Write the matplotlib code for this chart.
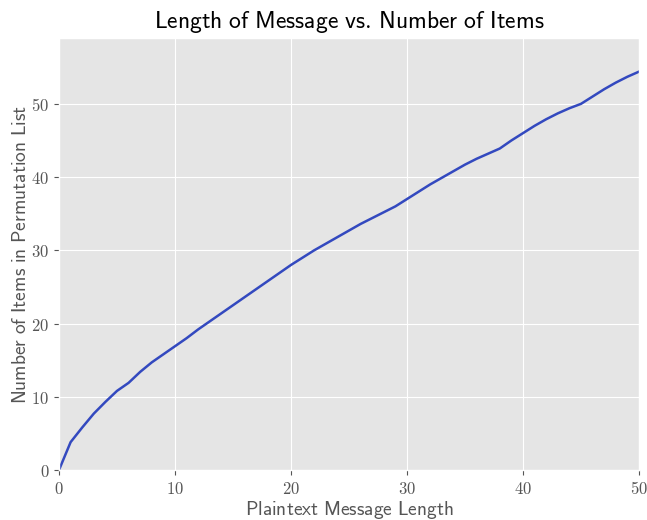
import numpy as np
import matplotlib
matplotlib.use("Agg")
import matplotlib.pyplot as plt
from matplotlib.ticker import FuncFormatter

plt.style.use("ggplot")
plt.rcParams["mathtext.fontset"] = "cm"

# message length (characters) and number of items in the permutation list
msg_length = list(range(0, 51))
num_items = [
    0.0, 3.8, 5.8, 7.7, 9.3, 10.8, 11.9, 13.4, 14.7, 15.8,
    16.9, 18.0, 19.2, 20.3, 21.4, 22.5, 23.6, 24.7, 25.8, 26.9,
    28.0, 29.0, 30.0, 30.9, 31.8, 32.7, 33.6, 34.4, 35.2, 36.0,
    37.0, 38.0, 39.0, 39.9, 40.8, 41.7, 42.5, 43.2, 43.9, 45.0,
    46.0, 47.0, 47.9, 48.7, 49.4, 50.0, 51.0, 52.0, 52.9, 53.7,
    54.4,
]


def sans(text):
    # Computer Modern Sans through mathtext
    return r"$\mathsf{" + text.replace(" ", r"\ ") + "}$"


fig = plt.figure(figsize=(6.47, 5.2), dpi=100)
ax = fig.add_axes([0.0912, 0.0962, 0.8964, 0.8308])

ax.plot(msg_length, num_items, color="#3349bf", linewidth=1.8)

ax.set_xlim(0, 50)
ax.set_ylim(0, 59)
ax.set_xticks([0, 10, 20, 30, 40, 50])
ax.set_yticks([0, 10, 20, 30, 40, 50])
fmt = FuncFormatter(lambda v, pos: r"$%d$" % v)
ax.xaxis.set_major_formatter(fmt)
ax.yaxis.set_major_formatter(fmt)
ax.tick_params(labelsize=12, colors="#555555")

ax.set_title(sans("Length of Message vs.Number of Items").replace("vs.", r"vs.\,"),
             fontsize=17, color="black", pad=7)
ax.set_xlabel(sans("Plaintext Message Length"), fontsize=14, color="#555555", labelpad=1)
ax.set_ylabel(sans("Number of Items in Permutation List"), fontsize=14, color="#555555", labelpad=1)

fig.savefig("out.png", dpi=100)
